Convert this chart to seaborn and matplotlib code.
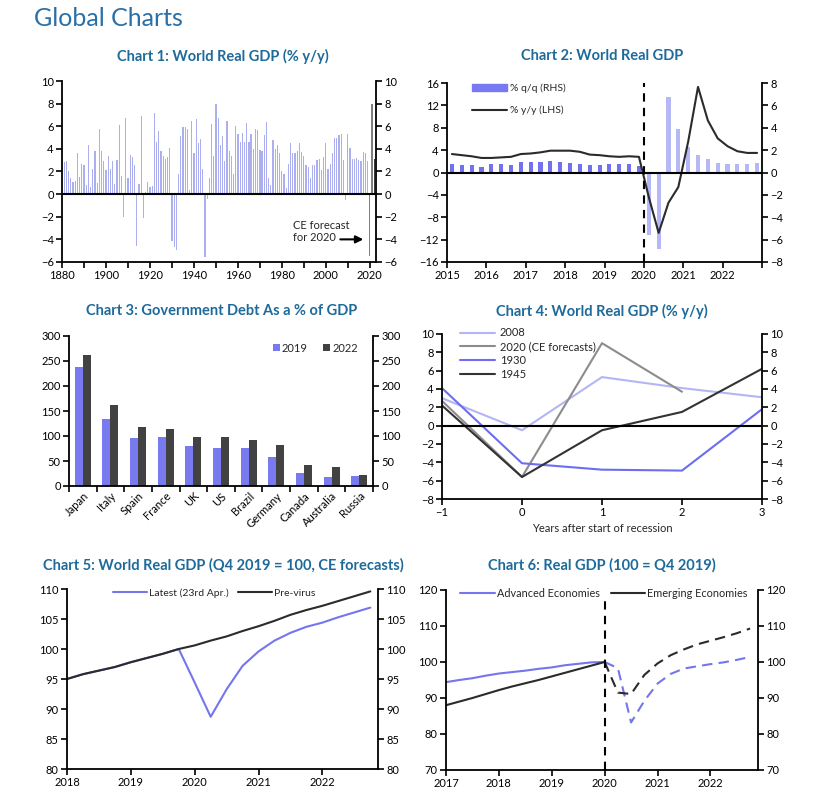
import numpy as np
import pandas as pd
import matplotlib
matplotlib.use("Agg")
import matplotlib.pyplot as plt
import seaborn as sns
from matplotlib.patches import Patch
from matplotlib.lines import Line2D

# ---------------- data ----------------
# Chart 1: World real GDP % y/y (1881-2022)
c1_years = list(range(1881, 2023))
c1_values = [
    2.8, 2.9, 2.0, 1.4, 1.1, 1.2, 3.6, 1.5, 2.7, 2.6,
    0.8, 4.3, 0.6, 2.2, 3.8, 1.0, 5.8, 3.8, 2.9, 2.1,
    3.4, 2.2, 2.9, 0.9, 3.0, 6.1, 1.6, -2.0, 6.7, 1.4,
    3.5, 3.3, 2.6, -4.6, 0.9, 6.9, -2.1, 0.2, 1.1, 0.6,
    0.7, 7.2, 4.6, 5.6, 3.8, 3.4, 3.1, 3.3, 4.1, -4.1,
    -4.7, -4.9, 1.8, 5.1, 5.9, 5.9, 5.8, 0.4, 6.5, 3.6,
    6.6, 4.5, 4.9, 2.2, -5.6, -0.4, 1.4, 6.2, 3.4, 8.0,
    6.7, 4.3, 5.1, 2.9, 6.5, 3.8, 3.4, 1.8, 6.0, 5.3,
    4.6, 5.4, 4.6, 6.3, 4.6, 5.3, 4.0, 5.8, 5.7, 3.9,
    3.8, 5.2, 6.4, 1.4, 0.8, 4.8, 4.0, 4.3, 3.6, 2.0,
    1.8, 0.5, 2.7, 4.5, 3.6, 3.6, 3.8, 4.5, 3.7, 3.4,
    2.6, 2.4, 1.4, 2.6, 2.6, 3.0, 3.1, 2.1, 3.3, 4.5,
    2.2, 2.7, 3.6, 5.0, 5.0, 5.2, 5.3, 3.0, -0.5, 5.3,
    4.1, 3.1, 3.1, 3.2, 3.0, 2.9, 3.7, 3.6, 2.9,
    -5.5, 8.0, 3.1,
]
c1_kind = ["history"] * 139 + ["forecast", "forecast", "forecast late"]

# Chart 2: World real GDP, quarterly
c2_years = [y for y in range(2015, 2023) for q in range(4)]
c2_quarter = [q for y in range(2015, 2023) for q in range(1, 5)]
c2_qq = [0.75, 0.66, 0.66, 0.50, 0.75, 0.75, 0.66, 0.98,
         0.90, 0.90, 1.04, 0.98, 0.87, 0.80, 0.66, 0.66,
         0.75, 0.75, 0.75, 0.60, -5.6, -6.8, 6.75, 3.9,
         2.3, 1.6, 1.2, 0.87, 0.72, 0.80, 0.80, 0.87]
c2_yy = [3.3, 3.1, 2.9, 2.6, 2.6, 2.7, 2.8, 3.3,
         3.4, 3.6, 3.9, 3.9, 3.9, 3.7, 3.2, 3.1,
         2.9, 2.8, 2.9, 2.8, -4.4, -10.8, -5.4, -2.6,
         5.5, 15.3, 9.3, 6.1, 4.7, 3.8, 3.5, 3.5]

# Chart 3: Government debt % of GDP
c3_countries = ["Japan", "Italy", "Spain", "France", "UK", "US", "Brazil",
                "Germany", "Canada", "Australia", "Russia"]
c3_2019 = [238, 135, 96, 98, 80, 77, 76, 59, 27, 18, 20]
c3_2022 = [262, 162, 119, 114, 99, 99, 92, 82, 43, 38, 23]

# Chart 4: World real GDP around recessions
c4_x = [-1, 0, 1, 2, 3]
c4_2008 = [3.0, -0.5, 5.3, 4.1, 3.1]
c4_2020 = [2.7, -5.6, 9.0, 3.7]
c4_1930 = [4.1, -4.1, -4.8, -4.9, 1.8]
c4_1945 = [2.2, -5.6, -0.5, 1.5, 6.2]

# Chart 5: World real GDP (Q4 2019 = 100)
c5_x = [2018 + 0.25 * i for i in range(20)]
c5_latest = [95.0, 95.8, 96.4, 97.0, 97.8, 98.5, 99.2, 100.0, 94.4, 88.7,
             93.3, 97.2, 99.6, 101.4, 102.7, 103.7, 104.4, 105.3, 106.1, 106.9]
c5_previrus = [95.0, 95.8, 96.4, 97.0, 97.8, 98.5, 99.2, 100.0, 100.6, 101.4,
               102.1, 103.0, 103.8, 104.7, 105.7, 106.5, 107.2, 108.0, 108.8, 109.6]

# Chart 6: Real GDP (100 = Q4 2019)
c6_x = [2017 + 0.25 * i for i in range(24)]
c6_adv = [94.4, 95.0, 95.5, 96.2, 96.8, 97.2, 97.6, 98.1, 98.5, 99.1, 99.5, 99.9,
          100.0, 98.3, 83.2, 89.2, 94.0, 96.7, 98.2, 98.8, 99.4, 99.9, 100.6, 101.4]
c6_em = [88.0, 89.0, 90.0, 91.1, 92.2, 93.2, 94.1, 95.0, 96.0, 97.0, 98.0, 99.0,
         100.0, 91.5, 91.1, 96.4, 99.6, 101.9, 103.5, 104.9, 105.9, 106.9, 108.0, 109.3]

# ---------------- style ----------------
sns.set_theme(style="ticks")
plt.rcParams["font.family"] = ["Lato", "DejaVu Sans"]
plt.rcParams.update({
    "axes.linewidth": 1.3, "axes.edgecolor": "black",
    "xtick.major.size": 4, "ytick.major.size": 4,
    "xtick.minor.size": 4, "ytick.minor.size": 4,
    "xtick.major.width": 1.2, "ytick.major.width": 1.2,
    "xtick.minor.width": 1.2,
    "xtick.labelsize": 8, "ytick.labelsize": 8,
    "xtick.color": "black", "ytick.color": "black",
    "xtick.major.pad": 2, "ytick.major.pad": 2,
})
TITLE_C = "#1d6a9b"
BLUE = "#7575ee"
LAV = "#abaff0"
DARK = "#2b2b2b"

W, H = 835, 795
fig = plt.figure(figsize=(W / 100, H / 100), dpi=100)


def add_ax(l, r, t, b):
    return fig.add_axes([l / W, 1 - b / H, (r - l) / W, (b - t) / H])


def mirror(ax):
    ax.spines["top"].set_visible(False)
    ax.spines["right"].set_visible(True)
    ax.tick_params(axis="y", which="both", left=True, right=True,
                   labelleft=True, labelright=True, direction="out")
    ax.tick_params(axis="x", which="both", bottom=True, direction="out")
    ax.set_xlabel("")
    ax.set_ylabel("")


fig.text(34 / W, 1 - 18 / H, "Global Charts", fontsize=18, color="#2a70a8",
         ha="left", va="center")
titles = [
    ("Chart 1: World Real GDP (% y/y)", 223, 56),
    ("Chart 2: World Real GDP", 602, 56),
    ("Chart 3: Government Debt As a % of GDP", 222, 311),
    ("Chart 4: World Real GDP (% y/y)", 602, 311),
    ("Chart 5: World Real GDP (Q4 2019 = 100, CE forecasts)", 223, 565),
    ("Chart 6: Real GDP (100 = Q4 2019)", 602, 565),
]
for t, x, y in titles:
    fig.text(x / W, 1 - y / H, t, fontsize=10.5, fontweight="bold",
             color=TITLE_C, ha="center", va="center")

# ---------------- Chart 1 ----------------
ax1 = add_ax(62, 376, 81, 262)
df1 = pd.DataFrame({"year": c1_years, "value": c1_values, "kind": c1_kind})
sns.barplot(data=df1, x="year", y="value", hue="kind",
            palette={"history": LAV, "forecast": "#808080", "forecast late": "#3a3a3a"},
            native_scale=True, dodge=False, width=0.55, saturation=1,
            errorbar=None, linewidth=0, legend=False, ax=ax1)
ax1.axhline(0, color="black", lw=1.5)
ax1.set_xlim(1880, 2022.8)
ax1.set_ylim(-6, 10)
ax1.set_yticks(range(-6, 11, 2))
ax1.set_xticks(range(1880, 2021, 20))
ax1.set_xticks(range(1890, 2011, 20), minor=True)
mirror(ax1)
ax1.text(1985, -3.3, "CE forecast\nfor 2020", fontsize=8, ha="left",
         va="center", linespacing=1.05)
ax1.annotate("", xy=(2018.3, -4.0), xytext=(2005.3, -4.0),
             arrowprops=dict(arrowstyle="-|>", color="black", lw=1.5,
                             mutation_scale=11))

# ---------------- Chart 2 ----------------
ax2 = add_ax(447, 762, 83, 262)
ax2r = ax2.twinx()
df2 = pd.DataFrame({
    "year": c2_years, "quarter": c2_quarter, "qq": c2_qq, "yy": c2_yy,
})
df2["t"] = df2["year"] + (df2["quarter"] - 0.5) / 4
df2["phase"] = np.where(df2["year"] < 2020, "pre", "post")
sns.barplot(data=df2, x="t", y="qq", hue="phase",
            palette={"pre": "#7272ef", "post": "#b6b8f6"},
            native_scale=True, dodge=False, width=0.42, saturation=1,
            errorbar=None, linewidth=0, legend=False, ax=ax2r)
sns.lineplot(data=df2, x="t", y="yy", color=DARK, lw=1.5, ax=ax2)
ax2.set_zorder(ax2r.get_zorder() + 1)
ax2.patch.set_visible(False)
ax2.axhline(0, color="black", lw=1.5)
ax2.axvline(2020, color="black", lw=1.5, ls=(0, (4, 3)))
ax2.set_xlim(2015, 2023)
ax2.set_ylim(-16, 16)
ax2.set_yticks(range(-16, 17, 4))
ax2r.set_ylim(-8, 8)
ax2r.set_yticks(range(-8, 9, 2))
ax2.set_xticks(range(2015, 2024))
ax2.set_xticklabels([str(y) for y in range(2015, 2023)] + [""])
for a in (ax2, ax2r):
    a.spines["top"].set_visible(False)
    a.set_xlabel("")
    a.set_ylabel("")
ax2.spines["right"].set_visible(False)
ax2r.spines["left"].set_visible(False)
ax2r.spines["bottom"].set_visible(False)
ax2r.tick_params(axis="y", direction="out")
ax2.tick_params(axis="both", direction="out")
ax2.legend(handles=[Patch(color="#7878f0"), Line2D([0], [0], color=DARK, lw=1.5)],
           labels=["% q/q (RHS)", "% y/y (LHS)"], loc="upper left",
           bbox_to_anchor=(0.08, 0.995), frameon=False, fontsize=7.5,
           handlelength=3.3, handleheight=0.6, handletextpad=0.3,
           labelspacing=1.2, borderpad=0, borderaxespad=0)

# ---------------- Chart 3 ----------------
ax3 = add_ax(69, 373, 336, 486)
df3 = pd.DataFrame({
    "country": c3_countries * 2,
    "year": ["2019"] * len(c3_countries) + ["2022"] * len(c3_countries),
    "value": c3_2019 + c3_2022,
})
sns.barplot(data=df3, x="country", y="value", hue="year",
            palette={"2019": "#7a7af0", "2022": "#424242"},
            width=0.58, saturation=1, errorbar=None, linewidth=0, ax=ax3)
ax3.set_xlim(-0.5, len(c3_countries) - 0.5)
ax3.set_ylim(0, 300)
ax3.set_yticks(range(0, 301, 50))
mirror(ax3)
ax3.set_xticks(np.arange(-0.5, len(c3_countries), 1.0), minor=True)
ax3.tick_params(axis="x", which="major", length=0, pad=3)
ax3.tick_params(axis="x", which="minor", length=4)
for lab in ax3.get_xticklabels():
    lab.set_rotation(45)
    lab.set_ha("right")
    lab.set_va("top")
    lab.set_rotation_mode("anchor")
sns.move_legend(ax3, "center right", bbox_to_anchor=(0.95, 0.918), ncol=2,
                frameon=False, title=None, fontsize=8, handlelength=0.6,
                handleheight=0.6, handletextpad=0.2, columnspacing=1.4,
                borderpad=0, borderaxespad=0)

# ---------------- Chart 4 ----------------
ax4 = add_ax(442, 762, 334, 499)
rows = []
for name, vals in [("2008", c4_2008), ("2020 (CE forecasts)", c4_2020),
                   ("1930", c4_1930), ("1945", c4_1945)]:
    for x, v in zip(c4_x, vals):
        rows.append({"x": x, "value": v, "series": name})
df4 = pd.DataFrame(rows)
sns.lineplot(data=df4, x="x", y="value", hue="series",
             hue_order=["2008", "2020 (CE forecasts)", "1930", "1945"],
             palette={"2008": "#b3b6f3", "2020 (CE forecasts)": "#8c8c8c",
                      "1930": "#6d6df0", "1945": "#333333"},
             lw=1.5, ax=ax4)
ax4.axhline(0, color="black", lw=1.5)
ax4.set_xlim(-1, 3)
ax4.set_ylim(-8, 10)
ax4.set_yticks(range(-8, 11, 2))
ax4.set_xticks(c4_x)
mirror(ax4)
ax4.set_xlabel("Years after start of recession", fontsize=8, labelpad=3)
sns.move_legend(ax4, "upper left", bbox_to_anchor=(0.055, 1.04), frameon=False,
                title=None, fontsize=8, handlelength=3.2, handletextpad=0.4,
                labelspacing=0.25, borderpad=0, borderaxespad=0)

# ---------------- Chart 5 ----------------
ax5 = add_ax(67, 378, 589, 769)
df5 = pd.DataFrame({
    "x": c5_x * 2,
    "value": c5_latest + c5_previrus,
    "series": ["Latest (23rd Apr.)"] * len(c5_x) + ["Pre-virus"] * len(c5_x),
})
sns.lineplot(data=df5, x="x", y="value", hue="series",
             hue_order=["Latest (23rd Apr.)", "Pre-virus"],
             palette={"Latest (23rd Apr.)": BLUE, "Pre-virus": DARK},
             lw=1.5, ax=ax5)
ax5.set_xlim(2018, 2022.87)
ax5.set_ylim(80, 110)
ax5.set_yticks(range(80, 111, 5))
ax5.set_xticks(range(2018, 2023))
mirror(ax5)
sns.move_legend(ax5, "center", bbox_to_anchor=(0.473, 0.978), ncol=2,
                frameon=False, title=None, fontsize=7.5, handlelength=3.3,
                handletextpad=0.15, columnspacing=0.9, borderpad=0,
                borderaxespad=0)

# ---------------- Chart 6 ----------------
ax6 = add_ax(446, 758, 590, 770)
df6 = pd.DataFrame({
    "x": c6_x * 2,
    "value": c6_adv + c6_em,
    "series": ["Advanced Economies"] * len(c6_x) + ["Emerging Economies"] * len(c6_x),
})
pal6 = {"Advanced Economies": BLUE, "Emerging Economies": DARK}
order6 = ["Advanced Economies", "Emerging Economies"]
sns.lineplot(data=df6[df6["x"] <= 2020], x="x", y="value", hue="series",
             hue_order=order6, palette=pal6, lw=1.5, ax=ax6)
sns.lineplot(data=df6[df6["x"] >= 2020], x="x", y="value", hue="series",
             hue_order=order6, palette=pal6, lw=1.5, ls=(0, (5, 3)),
             legend=False, ax=ax6)
ax6.axvline(2020, ymin=0, ymax=0.94, color="black", lw=1.5, ls=(0, (4, 3)))
ax6.set_xlim(2017, 2022.9)
ax6.set_ylim(70, 120)
ax6.set_yticks(range(70, 121, 10))
ax6.set_xticks(range(2017, 2023))
mirror(ax6)
sns.move_legend(ax6, "center", bbox_to_anchor=(0.506, 0.983), ncol=2,
                frameon=False, title=None, fontsize=7.8, handlelength=3.2,
                handletextpad=0.2, columnspacing=1.0, borderpad=0,
                borderaxespad=0)

fig.savefig("out.png", dpi=100)
